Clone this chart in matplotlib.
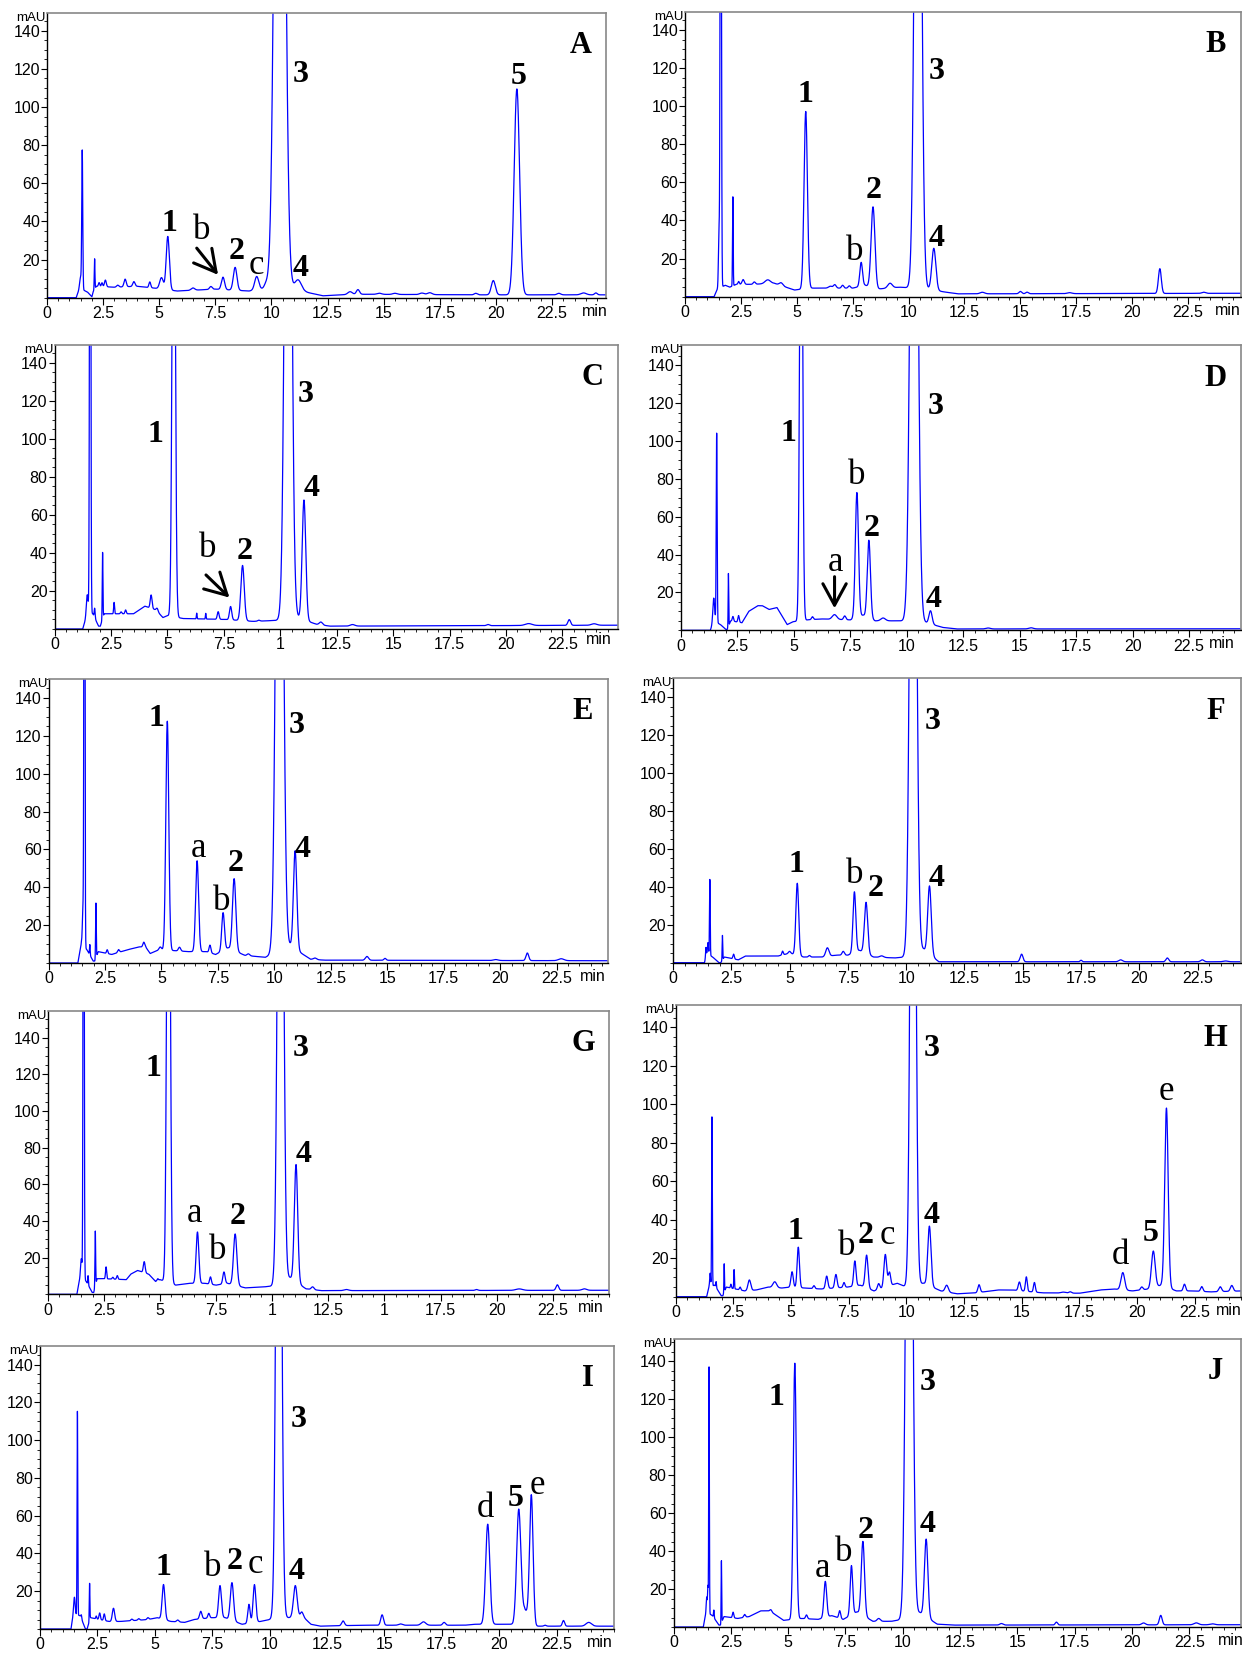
import numpy as np
import matplotlib.pyplot as plt
from matplotlib.ticker import MultipleLocator

plt.rcParams['font.family'] = ['Liberation Sans', 'DejaVu Sans']

# ---------------- data: baseline knots (min, mAU) and peaks (rt, height, sigma) ----------------
A_base_t = [0, 1.3, 1.45, 1.8, 2.0, 2.05, 2.2, 3.0, 4.0, 4.8, 5.8, 7.5, 9.0, 9.8, 11.5, 12.3, 13.0, 14.0, 19.0, 24.9]
A_base_y = [0, 0, 5, 3, 0.5, 3, 6, 5.5, 6, 5, 3.5, 4.5, 3.5, 5, 3, 1, 1.5, 1.8, 1.5, 1.5]
A_peaks = [(1.50, 6, 0.04), (1.57, 72, 0.022), (2.12, 16, 0.015), (2.32, 2, 0.03), (2.45, 2, 0.03),
           (2.6, 3.5, 0.04), (3.15, 1, 0.05), (3.48, 4, 0.05), (3.87, 2.5, 0.05), (4.58, 3, 0.04),
           (5.1, 6, 0.08), (5.38, 28, 0.07), (6.5, 1.2, 0.08), (7.3, 1.5, 0.06), (7.84, 6.5, 0.07),
           (8.38, 12, 0.08), (9.34, 7, 0.09), (9.75, 2, 0.08), (10.37, 600, 0.18), (11.18, 6, 0.15),
           (13.5, 1.5, 0.1), (13.85, 2.5, 0.07), (14.8, 0.6, 0.1), (15.5, 0.6, 0.1), (16.7, 0.8, 0.1),
           (17.05, 1, 0.1), (19.1, 0.8, 0.07), (19.88, 7.5, 0.09), (20.93, 108, 0.12),
           (22.8, 0.8, 0.08), (23.9, 1.0, 0.12), (24.45, 1.0, 0.06)]

B_base_t = [0, 1.3, 1.45, 1.8, 2.0, 2.3, 3.0, 4.0, 4.9, 5.6, 6.5, 7.5, 8.05, 8.6, 9.6, 10.82, 11.6, 12.2, 24.9]
B_base_y = [0, 0, 4, 6, 5, 6.5, 6.5, 7, 3.5, 4.5, 4.5, 4.5, 6, 4, 5, 4, 2.5, 1.5, 1.8]
B_peaks = [(1.52, 30, 0.025), (1.6, 400, 0.025), (2.14, 47, 0.015), (2.4, 1.5, 0.03), (2.6, 2.5, 0.05),
           (3.1, 1.2, 0.05), (3.7, 2, 0.12), (4.3, 1.5, 0.08), (5.4, 93, 0.075), (6.5, 1, 0.08),
           (6.7, 1.8, 0.06), (7.05, 1.5, 0.05), (7.35, 1.2, 0.05), (7.88, 12.5, 0.06), (8.41, 42.5, 0.085),
           (9.17, 2.5, 0.1), (10.42, 450, 0.13), (11.13, 22, 0.09), (13.3, 0.8, 0.1), (15.0, 1.2, 0.06),
           (15.3, 0.8, 0.06), (17.2, 0.5, 0.1), (21.24, 13, 0.065), (23.2, 0.6, 0.08)]

C_base_t = [0, 1.25, 1.45, 1.7, 1.95, 2.03, 2.2, 3.5, 4.0, 4.5, 4.8, 5.0, 5.7, 7.6, 8.8, 9.8, 10.75, 11.6, 12.2, 24.96]
C_base_y = [0, 0, 8, 8, 1.5, 1.5, 8, 8, 12, 10, 6, 7, 5.5, 5, 4, 4.5, 6, 2.5, 1.5, 2]
C_peaks = [(1.45, 10, 0.04), (1.58, 400, 0.025), (1.78, 5, 0.02), (2.13, 35, 0.015), (2.64, 6, 0.02),
           (2.95, 1, 0.03), (3.15, 2, 0.03), (4.28, 7, 0.04), (4.55, 1.5, 0.04), (5.28, 300, 0.065),
           (6.3, 3, 0.015), (6.7, 3, 0.015), (7.25, 4, 0.04), (7.8, 7, 0.05), (8.33, 29, 0.075),
           (9.05, 0.5, 0.05), (10.35, 450, 0.13), (11.05, 63, 0.08), (11.8, 1.5, 0.07), (13.2, 0.8, 0.1),
           (19.2, 0.6, 0.06), (21.0, 1, 0.15), (22.8, 3, 0.06), (23.9, 0.8, 0.12)]

D_base_t = [0, 1.3, 1.45, 1.75, 1.98, 2.05, 2.2, 2.7, 3.0, 3.4, 3.6, 3.9, 4.25, 4.7, 4.95, 5.6, 6.2,
            7.5, 8.07, 8.6, 9.7, 10.85, 11.6, 12.2, 24.8]
D_base_y = [0, 0, 5, 3, 0.5, 0.5, 5, 4, 10, 13, 13, 11, 12, 3, 4.5, 5.5, 6, 5.5, 8, 5, 5, 4, 1.5, 0.7, 0.8]
D_peaks = [(1.45, 12, 0.04), (1.58, 100, 0.02), (2.1, 28, 0.012), (2.3, 2.5, 0.03), (2.55, 3.5, 0.03),
           (5.32, 300, 0.06), (5.82, 1.5, 0.04), (6.8, 2.5, 0.1), (7.25, 2, 0.05), (7.79, 66, 0.07),
           (8.32, 41, 0.07), (8.95, 1.5, 0.1), (10.32, 450, 0.14), (11.05, 7, 0.07), (13.6, 0.5, 0.1),
           (15.5, 0.6, 0.1)]

E_base_t = [0, 1.3, 1.45, 1.7, 1.98, 2.05, 2.2, 2.8, 3.5, 4.0, 4.3, 4.5, 4.9, 5.6, 6.2, 7.0, 7.4, 7.95,
            8.7, 9.6, 10.7, 11.6, 12.2, 24.75]
E_base_y = [0, 0, 10, 7, 1, 1, 6, 4.5, 7, 8.5, 8.5, 5, 7, 6.5, 6, 6, 4.5, 8, 4, 3, 9, 2, 1.5, 1.2]
E_peaks = [(1.53, 20, 0.03), (1.59, 400, 0.02), (1.83, 5.5, 0.015), (2.1, 29, 0.015), (2.6, 2, 0.03),
           (3.1, 1.5, 0.04), (4.22, 2.5, 0.04), (4.95, 1.5, 0.05), (5.26, 121, 0.065), (5.8, 2, 0.05),
           (6.58, 48, 0.065), (7.15, 4, 0.04), (7.73, 20, 0.06), (8.22, 38, 0.075), (8.85, 1, 0.06),
           (10.23, 450, 0.135), (10.92, 52, 0.075), (11.8, 0.8, 0.07), (14.1, 2, 0.07), (14.9, 1, 0.05),
           (19.8, 0.5, 0.1), (21.2, 4, 0.06), (22.7, 1, 0.12)]

F_base_t = [0, 1.35, 1.45, 1.7, 1.97, 2.05, 2.2, 2.8, 3.1, 4.5, 5.0, 5.6, 6.4, 7.0, 7.5, 8.0, 8.6, 9.5,
            10.0, 10.75, 11.4, 24.4]
F_base_y = [0, 0, 5, 3, 0, 0, 3, 1.5, 3.5, 3.5, 5, 3, 3, 4, 4, 6.5, 3, 2.5, 3, 7, 0.5, 0.5]
F_peaks = [(1.41, 5, 0.015), (1.5, 6, 0.02), (1.58, 40, 0.015), (2.12, 13, 0.012), (2.6, 2.5, 0.03),
           (4.7, 2, 0.03), (5.0, 1, 0.05), (5.33, 38, 0.06), (5.85, 0.8, 0.04), (6.62, 4.5, 0.07),
           (7.3, 2, 0.05), (7.78, 32, 0.06), (8.28, 27, 0.07), (8.95, 0.8, 0.08), (10.3, 450, 0.12),
           (11.0, 36, 0.075), (14.95, 4, 0.06), (17.5, 0.8, 0.04), (19.2, 1, 0.08), (21.2, 2, 0.06),
           (22.7, 1, 0.07), (23.7, 0.4, 0.1)]

G_base_t = [0, 1.3, 1.45, 1.72, 1.98, 2.05, 2.2, 2.5, 3.5, 3.7, 4.0, 4.5, 4.8, 5.0, 5.7, 6.3, 7.0, 7.5,
            8.0, 8.8, 9.6, 10.0, 10.8, 11.5, 12.2, 25]
G_base_y = [0, 0, 10, 7, 1, 1, 8.5, 8.5, 8, 11, 13, 11, 7, 8, 5, 6, 6, 5, 6, 3.5, 4, 4.5, 9, 3, 2, 2.2]
G_peaks = [(1.5, 10, 0.03), (1.6, 400, 0.022), (1.8, 5, 0.015), (2.12, 30, 0.015), (2.6, 6.5, 0.025),
           (2.9, 1, 0.03), (3.1, 2, 0.03), (4.3, 6, 0.04), (4.9, 1, 0.03), (5.38, 350, 0.07),
           (6.67, 28, 0.06), (7.25, 4, 0.04), (7.85, 6.5, 0.05), (8.35, 28, 0.075), (10.37, 450, 0.11),
           (11.06, 64, 0.075), (11.8, 1.5, 0.06), (13.3, 0.6, 0.1), (19.1, 0.5, 0.06), (21.0, 0.8, 0.15),
           (22.7, 3, 0.06), (23.9, 0.8, 0.1)]

H_base_t = [0, 1.35, 1.45, 1.7, 1.98, 2.05, 2.2, 3.0, 3.5, 4.0, 4.6, 5.0, 5.6, 6.3, 7.45, 8.0, 8.6, 9.6,
            10.0, 10.75, 11.5, 12.2, 13.0, 14.0, 14.6, 15.9, 17.5, 18.4, 19.0, 19.8, 20.5, 21.05, 21.7,
            22.4, 23.2, 24.5]
H_base_y = [0, 0, 5, 6, 0.5, 0.5, 5, 3, 3.5, 5, 4.5, 5, 4.5, 4, 5, 6, 3, 7, 5, 7, 3, 1.5, 2, 3.5, 3.5,
            2, 1.8, 3.5, 4, 3, 4, 6, 3, 3, 2.5, 3]
H_peaks = [(1.5, 7, 0.02), (1.58, 88, 0.015), (1.76, 3, 0.015), (2.11, 15, 0.012), (2.4, 2, 0.02),
           (2.54, 10, 0.015), (2.8, 1.5, 0.03), (3.2, 5.5, 0.06), (4.3, 3, 0.08), (5.05, 8, 0.05),
           (5.32, 21, 0.05), (6.0, 1.5, 0.04), (6.55, 6.5, 0.05), (6.95, 7, 0.05), (7.3, 2.5, 0.04),
           (7.77, 13, 0.05), (8.28, 17, 0.06), (8.8, 3, 0.05), (9.09, 17, 0.06), (9.27, 7, 0.05),
           (10.29, 450, 0.1), (11.0, 31, 0.07), (11.75, 3.5, 0.07), (13.15, 4, 0.05), (14.9, 4.5, 0.05),
           (15.2, 7.5, 0.04), (15.55, 5, 0.04), (16.8, 0.5, 0.1), (17.1, 0.7, 0.06), (19.38, 9, 0.08),
           (20.2, 1.5, 0.05), (20.7, 19, 0.08), (21.27, 93, 0.075), (22.05, 3.5, 0.05), (22.8, 2.5, 0.05),
           (23.6, 2.5, 0.06), (24.1, 3, 0.06)]

I_base_t = [0, 1.35, 1.45, 1.75, 1.98, 2.05, 2.2, 3.0, 3.5, 4.7, 5.1, 5.7, 6.3, 6.7, 7.5, 8.05, 8.8, 9.6,
            10.0, 10.8, 11.5, 11.8, 12.2, 14.0, 15.3, 18.5, 18.9, 20.6, 21.1, 21.6, 25.0]
I_base_y = [0, 0, 8, 7, 0, 0, 6, 4, 4, 5, 6, 4, 3.5, 5, 6, 6, 2.5, 4, 5, 6, 6, 2.5, 1.5, 2, 2, 2, 2.5,
            2.5, 10.5, 1.5, 1.5]
I_peaks = [(1.5, 9, 0.03), (1.63, 108, 0.015), (1.8, 2, 0.02), (2.16, 20, 0.013), (2.45, 1.5, 0.02),
           (2.6, 3.5, 0.03), (2.8, 3.5, 0.03), (3.2, 7, 0.05), (4.0, 0.8, 0.04), (4.3, 0.8, 0.04),
           (4.7, 1, 0.04), (5.38, 18.5, 0.06), (6.0, 1, 0.05), (7.0, 4, 0.05), (7.35, 2.5, 0.04),
           (7.84, 17, 0.06), (8.36, 20, 0.07), (9.1, 10, 0.05), (9.34, 20, 0.06), (10.4, 450, 0.1),
           (11.12, 17, 0.08), (11.4, 3, 0.06), (13.2, 2.5, 0.06), (14.9, 5.5, 0.06), (15.7, 0.7, 0.08),
           (16.7, 1.8, 0.1), (17.6, 1.5, 0.06), (19.5, 53, 0.09), (20.85, 57, 0.09), (21.4, 66, 0.075),
           (22.0, 0.5, 0.05), (22.8, 3, 0.05), (23.9, 2, 0.12)]

J_base_t = [0, 1.3, 1.42, 1.7, 1.98, 2.05, 2.2, 2.8, 3.3, 3.8, 4.2, 4.5, 4.8, 5.6, 6.3, 6.9, 7.4, 8.0,
            8.7, 9.5, 10.0, 10.75, 11.5, 12.2, 24.75]
J_base_y = [0, 0, 8, 6, 1, 1, 5.5, 4.5, 5.5, 8.5, 8.5, 6, 3.5, 4.5, 4, 6, 4, 8, 3, 3, 4, 7.5, 1.5, 1, 1.2]
J_peaks = [(1.45, 8, 0.02), (1.5, 14, 0.015), (1.55, 130, 0.014), (1.76, 4, 0.015), (2.09, 33, 0.012),
           (2.6, 3, 0.03), (3.1, 1.5, 0.04), (4.25, 1, 0.04), (5.29, 135, 0.065), (5.8, 2, 0.04),
           (6.62, 19, 0.06), (7.25, 4, 0.04), (7.76, 26, 0.055), (8.26, 39, 0.07), (8.95, 1.5, 0.07),
           (10.28, 450, 0.12), (11.02, 41, 0.075), (14.3, 0.8, 0.07), (16.7, 1.5, 0.05), (20.5, 1, 0.08),
           (21.25, 5, 0.06), (22.8, 1, 0.1), (23.5, 0.5, 0.1)]

x_ticks = [0, 2.5, 5, 7.5, 10, 12.5, 15, 17.5, 20, 22.5]
x_labels = ['0', '2.5', '5', '7.5', '10', '12.5', '15', '17.5', '20', '22.5']
C_x_labels = ['0', '2.5', '5', '7.5', '1', '12.5', '15', '17.5', '20', '22.5']
G_x_labels = ['0', '2.5', '5', '7.5', '1', '12.5', '1', '17.5', '20', '22.5']
y_ticks = [20, 40, 60, 80, 100, 120, 140]

# ---------------- peak annotations ----------------
A_lab = [('1', 5.47, 39), ('b', 6.9, 35), ('2', 8.45, 24), ('c', 9.34, 17), ('3', 11.3, 117),
         ('4', 11.3, 15.5), ('5', 21.0, 116)]
B_lab = [('1', 5.4, 106), ('b', 7.61, 23.6), ('2', 8.44, 56), ('3', 11.24, 118), ('4', 11.24, 30.6)]
C_lab = [('1', 4.49, 102), ('b', 6.8, 42.4), ('2', 8.42, 40.6), ('3', 11.14, 123), ('4', 11.4, 74)]
D_lab = [('1', 4.74, 103.7), ('a', 6.86, 36), ('b', 7.77, 82), ('2', 8.42, 54), ('3', 11.28, 118),
         ('4', 11.19, 16.4)]
E_lab = [('1', 4.77, 129), ('a', 6.65, 60.5), ('b', 7.68, 32.4), ('2', 8.28, 52.6), ('3', 10.97, 125.7),
         ('4', 11.25, 59.7)]
F_lab = [('1', 5.31, 52), ('b', 7.78, 46.6), ('2', 8.71, 39), ('3', 11.12, 127), ('4', 11.29, 44.5)]
G_lab = [('1', 4.69, 123), ('a', 6.55, 44), ('b', 7.57, 24), ('2', 8.44, 42.4), ('3', 11.27, 134),
         ('4', 11.42, 76)]
H_lab = [('1', 5.2, 34), ('b', 7.43, 26), ('2', 8.23, 32), ('c', 9.18, 32), ('3', 11.08, 128.7),
         ('4', 11.11, 42), ('d', 19.26, 21.6), ('5', 20.58, 33), ('e', 21.28, 106.5)]
I_lab = [('1', 5.36, 32.4), ('b', 7.53, 32.4), ('2', 8.48, 36), ('c', 9.38, 34), ('3', 11.28, 111),
         ('4', 11.16, 30.4), ('d', 19.41, 63.8), ('5', 20.71, 69), ('e', 21.68, 76)]
J_lab = [('1', 4.49, 120.8), ('a', 6.48, 30.6), ('b', 7.43, 39.4), ('2', 8.38, 50.8), ('3', 11.07, 129),
         ('4', 11.1, 54.3)]

# arrows: (x_from, y_from, x_to, y_to)
A_arrow = (6.67, 26, 7.62, 12)
C_arrow = (6.71, 28.4, 7.75, 16.5)
D_arrow = (6.8, 28.3, 6.8, 11.6)

# ---------------- layout: (left, top, right, bottom) px, xmax, ymax, 'min' x ----------------
W, H = 1242, 1653
panels = [
    ('A', (47, 12.7, 606, 297.7), 24.9, 149.5, 24.4, A_base_t, A_base_y, A_peaks, A_lab, A_arrow, x_labels),
    ('B', (685, 11.7, 1241, 296.7), 24.87, 149.6, 24.3, B_base_t, B_base_y, B_peaks, B_lab, None, x_labels),
    ('C', (54.5, 345, 618, 629), 24.96, 149.2, 24.1, C_base_t, C_base_y, C_peaks, C_lab, C_arrow, C_x_labels),
    ('D', (681, 345.3, 1241, 630.3), 24.8, 150.5, 23.95, D_base_t, D_base_y, D_peaks, D_lab, D_arrow, x_labels),
    ('E', (48.5, 679, 607.5, 963), 24.75, 150, 24.1, E_base_t, E_base_y, E_peaks, E_lab, None, x_labels),
    ('F', (673, 678.3, 1241, 962.7), 24.36, 150, None, F_base_t, F_base_y, F_peaks, F_lab, None, x_labels),
    ('G', (47.7, 1011, 609, 1294.3), 25.0, 154.5, 24.2, G_base_t, G_base_y, G_peaks, G_lab, None, G_x_labels),
    ('H', (675.5, 1005, 1241, 1296.7), 24.5, 151.5, 23.95, H_base_t, H_base_y, H_peaks, H_lab, None, x_labels),
    ('I', (40, 1345.7, 614, 1629), 25.0, 150, 24.4, I_base_t, I_base_y, I_peaks, I_lab, None, x_labels),
    ('J', (673.5, 1338.7, 1241, 1627), 24.75, 152, 24.3, J_base_t, J_base_y, J_peaks, J_lab, None, x_labels),
]

t = np.linspace(0, 25, 6001)


def trace(base_t, base_y, peaks):
    y = np.interp(t, base_t, base_y)
    for rt, h, w in peaks:
        y = y + h * np.exp(-0.5 * ((t - rt) / w) ** 2)
    return y


serif = ['Liberation Serif', 'DejaVu Serif']

fig = plt.figure(figsize=(W / 100, H / 100), dpi=100)

for name, (l, tp, r, b), xmax, ymax, min_x, bt, by, pk, labs, arrow, xl in panels:
    ax = fig.add_axes([l / W, 1 - b / H, (r - l) / W, (b - tp) / H])
    ax.plot(t, trace(bt, by, pk), color='#0000ff', lw=0.9)
    ax.set_xlim(0, xmax)
    ax.set_ylim(0, ymax)
    ax.set_xticks(x_ticks, xl)
    ax.set_yticks(y_ticks)
    ax.xaxis.set_minor_locator(MultipleLocator(0.5))
    ax.yaxis.set_minor_locator(MultipleLocator(5))
    ax.tick_params(axis='both', which='major', labelsize=11.5, direction='out', color='black')
    ax.tick_params(axis='x', which='major', length=5, pad=1)
    ax.tick_params(axis='y', which='major', length=4, pad=1)
    ax.tick_params(axis='x', which='minor', length=2.5)
    ax.tick_params(axis='y', which='minor', length=2.5)
    for s in ('top', 'right'):
        ax.spines[s].set_color('#888888')
        ax.spines[s].set_linewidth(1.2)
    for s in ('left', 'bottom'):
        ax.spines[s].set_color('black')
        ax.spines[s].set_linewidth(1.0)

    ax.annotate('mAU', xy=(0, 1), xycoords='axes fraction', xytext=(-1, -5),
                textcoords='offset pixels', ha='right', va='center', fontsize=9.5)
    if min_x is not None:
        dy = -3 if name == 'C' else -6
        ax.annotate('min', xy=(min_x, 0), xycoords=('data', 'axes fraction'), xytext=(0, dy),
                    textcoords='offset pixels', ha='center', va='top', fontsize=11.5)

    for txt, lx, ly in labs:
        if txt.isdigit():
            ax.text(lx, ly, txt, family=serif, fontsize=23, fontweight='bold', ha='center', va='center')
        else:
            ax.text(lx, ly, txt, family=serif, fontsize=25, ha='center', va='center')
    if arrow is not None:
        ax.annotate('', xy=(arrow[2], arrow[3]), xytext=(arrow[0], arrow[1]),
                    arrowprops=dict(arrowstyle='->,head_length=0.55,head_width=0.3', lw=2.2,
                                    color='black', mutation_scale=28, shrinkA=0, shrinkB=0))

    ax.text(0.955, 0.885, name, transform=ax.transAxes, family=serif, fontsize=22,
            fontweight='bold', ha='center', va='center')

fig.savefig('out.png', dpi=100)
